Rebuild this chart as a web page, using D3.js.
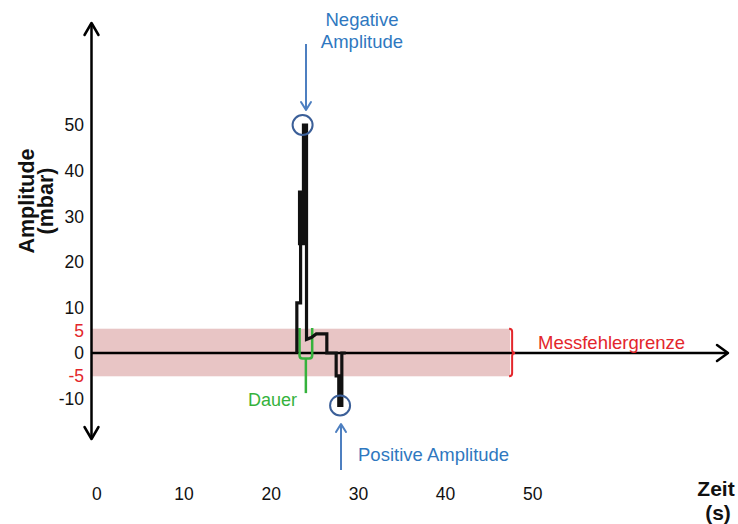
<!DOCTYPE html>
<html>
<head>
<meta charset="utf-8">
<script src="https://cdn.jsdelivr.net/npm/d3@7"></script>
<style>
  html, body { margin: 0; padding: 0; background: #fff; }
  svg { display: block; font-family: "Liberation Sans", Arial, Helvetica, sans-serif; }
</style>
</head>
<body>
<svg id="chart" width="738" height="524"></svg>
<script>
// Pressure pulse trace (time in s, amplitude in mbar), drawn as a stepped line
const traceTime  = [22.94, 22.94, 23.37, 23.37, 23.25, 23.25, 23.59, 23.59, 23.70, 23.70, 24.05, 24.05, 24.60, 25.17, 26.38, 26.38, 27.45, 27.45, 27.75, 27.75, 28.10, 28.10, 28.55];
const traceValue = [0, 11, 11, 24, 24, 35.3, 35.3, 24, 24, 50, 50, 3.0, 3.4, 4.2, 4.2, 0, 0, -5, -5, -11.5, -11.5, 0, 0];

// Axis tick labels
const xTicks = [0, 10, 20, 30, 40, 50];
const yTicks = [50, 40, 30, 20, 10, 5, 0, -5, -10];
const redTicks = [5, -5];

// Measurement error band (mbar) and its right end (s)
const errorLimits = [-5, 5];
const errorBandEnd = [47.4];

// Marked extremes: [time, amplitude]
const negativePeak = [23.6, 50];
const positivePeak = [27.9, -11.5];

// Duration bracket: start, end, top, bottom, stem end (s / mbar)
const durationBracket = [23.25, 24.7, 5.5, -1.2, -8.8];

const svg = d3.select("#chart");

const x = d3.scaleLinear().domain([0, 50]).range([96.8, 532.8]);
const y = d3.scaleLinear().domain([-10, 50]).range([398.6, 125]);

const axisX = 91.5;       // pixel column of the vertical axis
const axisColor = "#000";
const blue = "#2f78c0";
const arrowBlue = "#4d7fc0";
const circleBlue = "#3b5f98";
const red = "#e3262b";
const green = "#35b23c";
const labelSize = 18.5;

// Error band
svg.append("rect")
  .attr("x", axisX)
  .attr("y", y(errorLimits[1]) - 1.5)
  .attr("width", x(errorBandEnd[0]) - axisX)
  .attr("height", y(errorLimits[0]) - y(errorLimits[1]) + 2)
  .attr("fill", "#e8c5c5");

// Horizontal axis with arrow
const y0 = y(0);
svg.append("line")
  .attr("x1", axisX).attr("x2", 727)
  .attr("y1", y0).attr("y2", y0)
  .attr("stroke", axisColor).attr("stroke-width", 2.5);
svg.append("path")
  .attr("d", `M717,${y0 - 8} L728,${y0} L717,${y0 + 8}`)
  .attr("fill", "none").attr("stroke", axisColor).attr("stroke-width", 2.5)
  .attr("stroke-linecap", "round").attr("stroke-linejoin", "round");

// Vertical axis with arrows at both ends
svg.append("line")
  .attr("x1", axisX).attr("x2", axisX)
  .attr("y1", 24).attr("y2", 438)
  .attr("stroke", axisColor).attr("stroke-width", 2.5);
svg.append("path")
  .attr("d", `M${axisX - 7},35 L${axisX},23 L${axisX + 7},35`)
  .attr("fill", "none").attr("stroke", axisColor).attr("stroke-width", 2.5)
  .attr("stroke-linecap", "round").attr("stroke-linejoin", "round");
svg.append("path")
  .attr("d", `M${axisX - 7},427 L${axisX},439 L${axisX + 7},427`)
  .attr("fill", "none").attr("stroke", axisColor).attr("stroke-width", 2.5)
  .attr("stroke-linecap", "round").attr("stroke-linejoin", "round");

// Y tick labels
svg.append("g").selectAll("text")
  .data(yTicks)
  .join("text")
  .attr("x", 84)
  .attr("y", d => y(d))
  .attr("dy", "0.36em")
  .attr("text-anchor", "end")
  .attr("font-size", 17.5)
  .attr("fill", d => redTicks.includes(d) ? red : "#111")
  .text(d => d);

// X tick labels
svg.append("g").selectAll("text")
  .data(xTicks)
  .join("text")
  .attr("x", d => x(d))
  .attr("y", 500)
  .attr("text-anchor", "middle")
  .attr("font-size", 17.5)
  .attr("fill", "#111")
  .text(d => d);

// Axis titles
const yTitle = svg.append("text")
  .attr("transform", "translate(34,201) rotate(-90)")
  .attr("text-anchor", "middle")
  .attr("font-size", 21.5)
  .attr("font-weight", "bold")
  .attr("fill", "#111");
yTitle.append("tspan").attr("x", 0).attr("dy", 0).text("Amplitude");
yTitle.append("tspan").attr("x", 0).attr("dy", 18.5).text("(mbar)");

const xTitle = svg.append("text")
  .attr("text-anchor", "middle")
  .attr("font-size", 21)
  .attr("font-weight", "bold")
  .attr("fill", "#111");
xTitle.append("tspan").attr("x", 716).attr("y", 496).text("Zeit");
xTitle.append("tspan").attr("x", 718).attr("y", 520).text("(s)");

// Duration bracket
const [bs, be, bt, bb, bst] = durationBracket;
svg.append("path")
  .attr("d", `M${x(bs)},${y(bt)} V${y(bb) - 3} Q${x(bs)},${y(bb)} ${x(bs) + 3},${y(bb)} H${x(be) - 3} Q${x(be)},${y(bb)} ${x(be)},${y(bb) - 3} V${y(bt)}`)
  .attr("fill", "none").attr("stroke", green).attr("stroke-width", 2.5);
svg.append("line")
  .attr("x1", (x(bs) + x(be)) / 2).attr("x2", (x(bs) + x(be)) / 2)
  .attr("y1", y(bb)).attr("y2", y(bst))
  .attr("stroke", green).attr("stroke-width", 2.5);
svg.append("text")
  .attr("x", 297).attr("y", 406)
  .attr("text-anchor", "end")
  .attr("font-size", 18)
  .attr("fill", green)
  .text("Dauer");

// Pressure trace
const trace = traceTime.map((t, i) => [t, traceValue[i]]);
svg.append("path")
  .datum(trace)
  .attr("d", d3.line().x(d => x(d[0])).y(d => y(d[1])))
  .attr("fill", "none")
  .attr("stroke", "#111")
  .attr("stroke-width", 3.2)
  .attr("stroke-linejoin", "miter");

// Circles on the extremes
svg.append("g").selectAll("circle")
  .data([negativePeak, positivePeak])
  .join("circle")
  .attr("cx", d => x(d[0]))
  .attr("cy", d => y(d[1]))
  .attr("r", 10)
  .attr("fill", "none")
  .attr("stroke", circleBlue)
  .attr("stroke-width", 2);

// Blue pointer arrows
function arrow(xp, yFrom, yTo) {
  const dir = yTo > yFrom ? 1 : -1;
  svg.append("line")
    .attr("x1", xp).attr("x2", xp)
    .attr("y1", yFrom).attr("y2", yTo)
    .attr("stroke", arrowBlue).attr("stroke-width", 2);
  svg.append("path")
    .attr("d", `M${xp - 5},${yTo - dir * 8} L${xp},${yTo} L${xp + 5},${yTo - dir * 8}`)
    .attr("fill", "none").attr("stroke", arrowBlue).attr("stroke-width", 2)
    .attr("stroke-linejoin", "round").attr("stroke-linecap", "round");
}
arrow(306, 44, 110);
arrow(341, 470, 424);

// Annotations
const negLabel = svg.append("text")
  .attr("text-anchor", "middle")
  .attr("font-size", labelSize)
  .attr("fill", blue);
negLabel.append("tspan").attr("x", 362).attr("y", 26).text("Negative");
negLabel.append("tspan").attr("x", 362).attr("y", 48).text("Amplitude");

svg.append("text")
  .attr("x", 358).attr("y", 461)
  .attr("font-size", labelSize)
  .attr("fill", blue)
  .text("Positive Amplitude");

// Error-limit brace and label
const bx = x(errorBandEnd[0]) + 2;
const bTop = y(errorLimits[1]) - 1.5, bBot = y(errorLimits[0]) + 0.5, bMid = y(0);
svg.append("path")
  .attr("d", `M${bx - 3},${bTop} Q${bx},${bTop} ${bx},${bTop + 3} V${bMid - 3} Q${bx},${bMid} ${bx + 3},${bMid} Q${bx},${bMid} ${bx},${bMid + 3} V${bBot - 3} Q${bx},${bBot} ${bx - 3},${bBot}`)
  .attr("fill", "none").attr("stroke", red).attr("stroke-width", 2);
svg.append("text")
  .attr("x", 538).attr("y", 349)
  .attr("font-size", labelSize)
  .attr("fill", red)
  .text("Messfehlergrenze");
</script>
</body>
</html>
